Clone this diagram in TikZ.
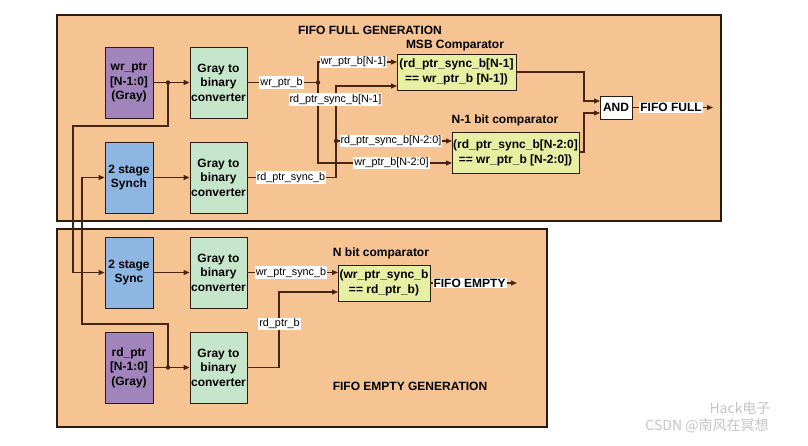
\documentclass[tikz,border=0pt]{standalone}
\usepackage{fontspec}
\setmainfont{Liberation Sans}
\newfontfamily\cjk{Noto Sans CJK SC}
\usetikzlibrary{arrows.meta}
\definecolor{panelc}{HTML}{F6C393}
\definecolor{purplec}{HTML}{A284BD}
\definecolor{bluec}{HTML}{8EB6E2}
\definecolor{greenc}{HTML}{C6E6CC}
\definecolor{yellowc}{HTML}{E6EFA2}
\definecolor{wire}{HTML}{4A2412}
\definecolor{edge}{HTML}{2B1A10}
\definecolor{wmark}{HTML}{C4C4C4}
\tikzset{
  panelbox/.style={draw=edge, line width=1.3pt, fill=panelc},
  blk/.style={draw=edge, line width=0.8pt, align=center, inner sep=1pt,
    font=\fontsize{12}{14.5}\selectfont\bfseries},
  pbox/.style={blk, fill=purplec, minimum width=48pt, minimum height=71pt},
  bbox/.style={blk, fill=bluec, minimum width=48pt, minimum height=71pt},
  gbox/.style={blk, fill=greenc, minimum width=57pt, minimum height=71pt},
  ybox/.style={blk, fill=yellowc, font=\fontsize{12}{15}\selectfont\bfseries},
  wbox/.style={blk, fill=white},
  lab/.style={fill=white, inner sep=1pt, font=\fontsize{10.8}{12}\selectfont},
  blab/.style={fill=white, inner sep=1pt, font=\fontsize{12}{13}\selectfont\bfseries},
  ttl/.style={font=\fontsize{12}{13}\selectfont\bfseries, inner sep=0pt},
  wireline/.style={draw=wire, line width=1.2pt},
  arr/.style={wireline, -{Triangle[length=6pt,width=5pt]}},
  wmk/.style={text=wmark, font=\cjk\fontsize{14}{15}\selectfont, inner sep=0pt},
}
\begin{document}
\begin{tikzpicture}[x=1pt, y=-1pt]
\useasboundingbox (0,0) rectangle (808,445);
% panels
\draw[panelbox] (57,15) rectangle (721,221);
\draw[panelbox] (57,229) rectangle (547,427);
\node[ttl] (tfull) at (370,30) {FIFO FULL GENERATION};
\node[ttl] (tempty) at (410,386) {FIFO EMPTY GENERATION};
\node[ttl] (tmsb) at (455,46) {MSB Comparator};
\node[ttl] (tn1) at (505,120) {N-1 bit comparator};
\node[ttl] (tn) at (381,253) {N bit comparator};

% blocks
\node[pbox] (wrptr) at (129,82.5) {wr\_ptr\\{[N-1:0]}\\(Gray)};
\node[gbox] (conv1) at (218.5,82.5) {Gray to\\binary\\converter};
\node[bbox] (synch) at (129,177.5) {2 stage\\Synch};
\node[gbox] (conv2) at (218.5,177.5) {Gray to\\binary\\converter};
\node[bbox] (sync2) at (129,272.5) {2 stage\\Sync};
\node[gbox] (conv3) at (218.5,272.5) {Gray to\\binary\\converter};
\node[pbox] (rdptr) at (129,367.5) {rd\_ptr\\{[N-1:0]}\\(Gray)};
\node[gbox] (conv4) at (218.5,367.5) {Gray to\\binary\\converter};
\node[ybox, minimum width=119pt, minimum height=36pt] (msb) at (456.5,72) {(rd\_ptr\_sync\_b[N-1]\\== wr\_ptr\_b [N-1])};
\node[ybox, minimum width=127pt, minimum height=41pt] (n1) at (515.5,152.5) {(rd\_ptr\_sync\_b[N-2:0]\\== wr\_ptr\_b [N-2:0])};
\node[wbox, minimum width=32pt, minimum height=23pt] (and) at (616,107.5) {AND};
\node[ybox, minimum width=92pt, minimum height=36pt] (ncmp) at (384,283) {(wr\_ptr\_sync\_b\\== rd\_ptr\_b)};

% junction coordinates
\coordinate (j1) at (168,82.5);
\coordinate (j4) at (168,367.5);
\coordinate (j2) at (318,82.5);
\coordinate (j3) at (336,177.5);
\coordinate (j5) at (336,141);
\coordinate (m1) at (397,62);
\coordinate (m2) at (397,86);
\coordinate (k1) at (452,141);
\coordinate (k2) at (452,163);
\coordinate (a1) at (600,101);
\coordinate (a2) at (600,113);
\coordinate (e1) at (338,272.5);
\coordinate (e2) at (338,292);
\coordinate (ffull) at (713,107.5);
\coordinate (fempty) at (517,283);

% left side wiring
\draw[arr] (wrptr.east) -- (conv1.west);
\draw[arr] (j1) -- (168,126) -- (73,126) -- (73,272.5) -- (sync2.west);
\draw[arr] (synch.east) -- (conv2.west);
\draw[arr] (rdptr.east) -- (conv4.west);
\draw[arr] (j4) -- (168,324) -- (82,324) -- (82,177.5) -- (synch.west);
\draw[arr] (sync2.east) -- (conv3.west);

% full generation wiring
\draw[wireline] (conv1.east) -- (j2);
\draw[arr] (j2) -- (318,62) -- (m1);
\draw[arr] (j2) -- (318,163) -- (k2);
\draw[wireline] (conv2.east) -- (j3);
\draw[arr] (j3) -- (336,86) -- (m2);
\draw[arr] (j5) -- (k1);
\draw[arr] (msb.east |- 0,72) -- (584,72) -- (584,101) -- (a1);
\draw[arr] (n1.east |- 0,152) -- (584,152) -- (584,113) -- (a2);
\draw[arr] (and.east) -- (ffull);

% empty generation wiring
\draw[arr] (conv3.east) -- (e1);
\draw[arr] (conv4.east) -- (279,367.5) -- (279,292) -- (e2);
\draw[arr] (ncmp.east) -- (fempty);

% dots
\foreach \p in {j1,j2,j4,j5} \fill[wire] (\p) circle (2.2pt);

% labels
\node[lab] (l1) at (281.5,82.5) {wr\_ptr\_b};
\node[lab] (l2) at (353.5,62) {wr\_ptr\_b[N-1]};
\node[lab] (l3) at (335.5,99.5) {rd\_ptr\_sync\_b[N-1]};
\node[lab] (l4) at (391,141) {rd\_ptr\_sync\_b[N-2:0]};
\node[lab] (l5) at (391.5,163) {wr\_ptr\_b[N-2:0]};
\node[lab] (l6) at (291,177.5) {rd\_ptr\_sync\_b};
\node[lab] (l7) at (291,272.5) {wr\_ptr\_sync\_b};
\node[lab] (l8) at (279.5,324) {rd\_ptr\_b};
\node[blab] (l9) at (671,107.5) {FIFO FULL};
\node[blab] (l10) at (469.5,283) {FIFO EMPTY};

% watermark
\node[wmk] (wm1) at (740,408) {Hack电子};
\node[wmk] (wm2) at (707,426) {CSDN @南风在冥想};
\end{tikzpicture}
\end{document}
